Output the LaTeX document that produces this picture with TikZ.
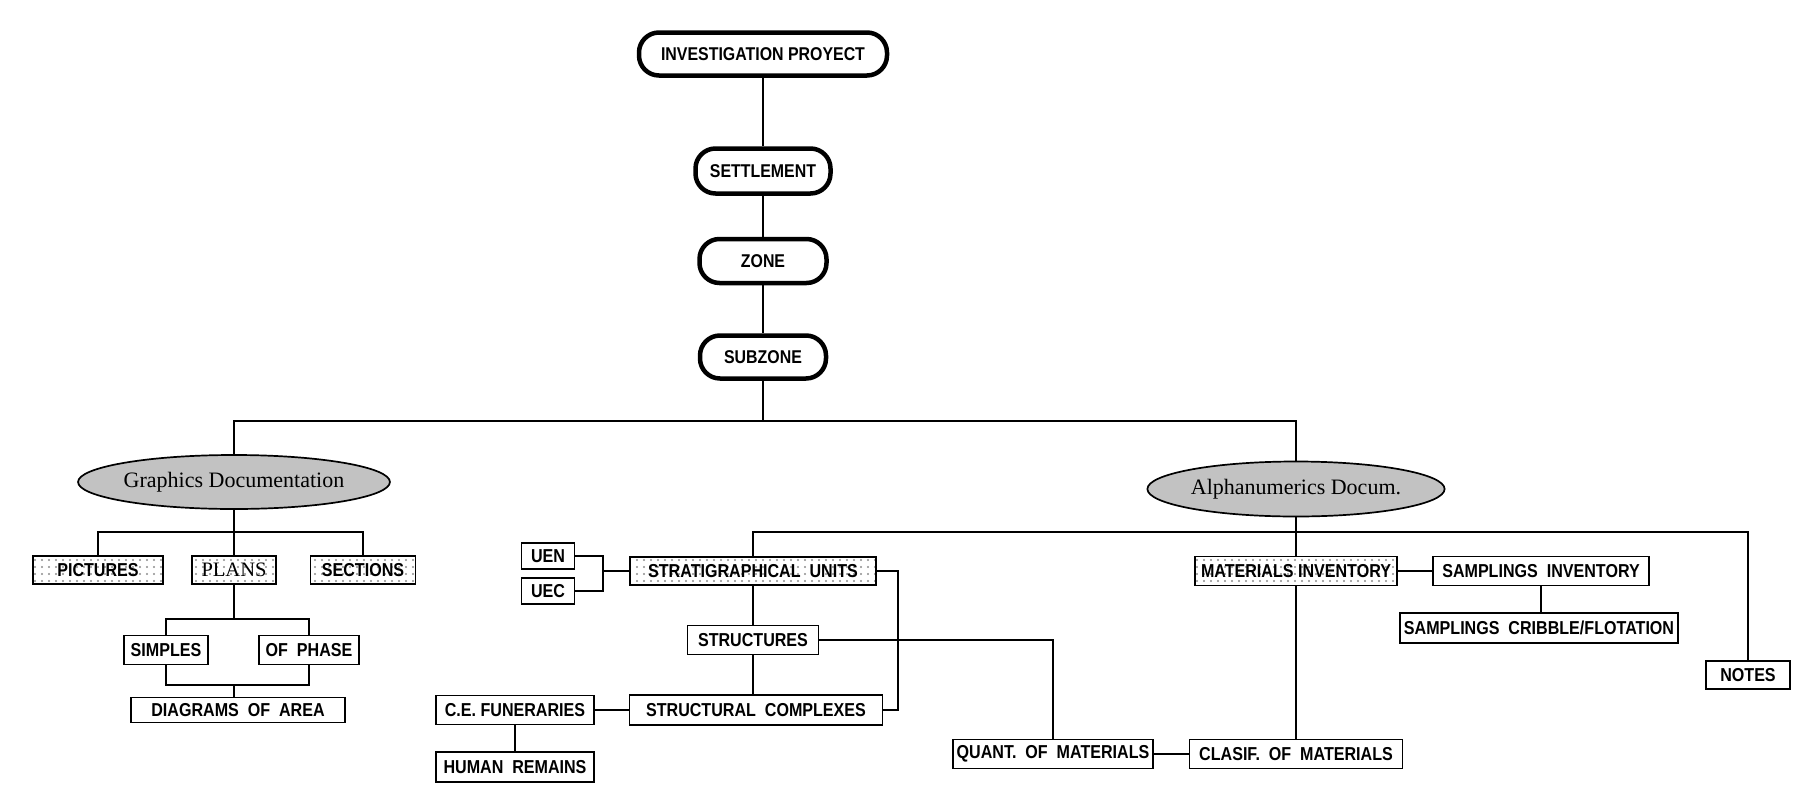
\documentclass[tikz,border=0pt]{standalone}
\usepackage{fontspec}
\setmainfont{Liberation Serif}
\newfontfamily\boxfont[FakeStretch=0.86]{Liberation Sans}
\usetikzlibrary{shapes.geometric,patterns.meta}
\begin{document}
\begin{tikzpicture}[x=1pt,y=-1pt,
  ln/.style={line width=1.4pt},
  topn/.style={draw, line width=4.5pt, rounded corners=20pt, inner sep=0pt, minimum height=43pt,
    font=\boxfont\bfseries\fontsize{18.5}{18.5}\selectfont},
  bx/.style={draw, line width=1.7pt, inner sep=0pt, minimum height=29pt,
    font=\boxfont\bfseries\fontsize{18.7}{18.7}\selectfont},
  bxd/.style={bx, pattern={Dots[distance=7pt, radius=1.1pt]}, pattern color=gray!90},
  ell/.style={ellipse, draw, line width=1.7pt, fill=gray!48, inner sep=0pt,
    font=\fontsize{22}{22}\selectfont}
]
\useasboundingbox (0,0) rectangle (1812,798);

% top chain
\node[topn, minimum width=248pt] (ip) at (763,54) {INVESTIGATION PROYECT};
\node[topn, minimum width=135pt, minimum height=45pt] (set) at (763,171) {SETTLEMENT};
\node[topn, minimum width=127pt, minimum height=44pt] (zone) at (763,261) {ZONE};
\node[topn, minimum width=126pt] (sub) at (763,357) {SUBZONE};

% ellipses
\node[ell, minimum width=254pt, minimum height=54pt] (graphics) at (234,482) {Graphics Documentation};
\node[ell, minimum width=249pt, minimum height=55pt] (alpha) at (1296,489) {Alphanumerics Docum.};

% graphics branch
\node[bxd, minimum width=130pt, minimum height=28pt] (pictures) at (98,570) {PICTURES};
\node[bxd, minimum width=84pt, minimum height=28pt, font=\fontsize{20.5}{20.5}\selectfont] (plans) at (234,570) {PLANS};
\node[bxd, minimum width=105pt, minimum height=28pt] (sections) at (363,570) {SECTIONS};
\node[bx, minimum width=84pt] (simples) at (166,650) {SIMPLES};
\node[bx, minimum width=100pt] (ofphase) at (309,650) {OF\ \ PHASE};
\node[bx, minimum width=214pt, minimum height=25pt] (diagrams) at (238,710) {DIAGRAMS\ \ OF\ \ AREA};

% stratigraphy
\node[bx, minimum width=53pt, minimum height=26pt] (uen) at (548,556) {UEN};
\node[bx, minimum width=53pt, minimum height=26pt] (uec) at (548,591) {UEC};
\node[bxd, minimum width=246pt, minimum height=28pt] (strat) at (753,571) {STRATIGRAPHICAL\ \ UNITS};
\node[bx, minimum width=131pt] (structures) at (753,640) {STRUCTURES};
\node[bx, minimum width=253pt, minimum height=30pt] (stcomplex) at (756,710) {STRUCTURAL\ \ COMPLEXES};
\node[bx, minimum width=158pt] (cefun) at (515,710) {C.E. FUNERARIES};
\node[bx, minimum width=158pt, minimum height=30pt] (human) at (515,767) {HUMAN\ \ REMAINS};

% materials
\node[bxd, minimum width=202pt] (matinv) at (1296,571) {MATERIALS INVENTORY};
\node[bx, minimum width=216pt] (sampinv) at (1541,571) {SAMPLINGS\ \ INVENTORY};
\node[bx, minimum width=278pt, minimum height=30pt] (cribble) at (1539,628) {SAMPLINGS\ \ CRIBBLE/FLOTATION};
\node[bx, minimum width=200pt] (quant) at (1053,754) {QUANT.\ \ OF\ \ MATERIALS};
\node[bx, minimum width=213pt] (clasif) at (1296,754) {CLASIF.\ \ OF\ \ MATERIALS};
\node[bx, minimum width=84pt, minimum height=28pt] (notes) at (1748,675) {NOTES};

% helper coordinates
\coordinate (b1) at (763,421);
\coordinate (b2) at (0,532);
\coordinate (c1) at (0,619);
\coordinate (c2) at (234,685);
\coordinate (j) at (603,571);
\coordinate (k) at (898,0);

% top connectors
\draw[ln] (ip) -- (set);
\draw[ln] (set) -- (zone);
\draw[ln] (zone) -- (sub);
\draw[ln] (sub.south) -- (b1);
\draw[ln] (graphics.north) -- (graphics.north |- b1) -- (alpha.north |- b1) -- (alpha.north);

% graphics connectors
\draw[ln] (graphics.south) -- (plans.north);
\draw[ln] (pictures.north) -- (pictures.north |- b2) -- (sections.north |- b2) -- (sections.north);
\draw[ln] (plans.south) -- (plans.south |- c1);
\draw[ln] (simples.north) -- (simples.north |- c1) -- (ofphase.north |- c1) -- (ofphase.north);
\draw[ln] (simples.south) -- (simples.south |- c2) -- (ofphase.south |- c2) -- (ofphase.south);
\draw[ln] (c2) -- (c2 |- diagrams.north);

% alpha connectors
\draw[ln] (alpha.south) -- (matinv.north);
\draw[ln] (strat.north) -- (strat.north |- b2) -- (notes.north |- b2) -- (notes.north);
\draw[ln] (uen.east) -- (uen.east -| j) -- (uec.east -| j) -- (uec.east);
\draw[ln] (j) -- (strat.west);
\draw[ln] (strat.east) -- (strat.east -| k) -- (stcomplex.east -| k) -- (stcomplex.east);
\draw[ln] (strat.south) -- (structures.north);
\draw[ln] (structures.south) -- (structures.south |- stcomplex.north);
\draw[ln] (structures.east) -| (quant.north);
\draw[ln] (cefun.east) -- (stcomplex.west);
\draw[ln] (cefun.south) -- (human.north);
\draw[ln] (quant.east) -- (clasif.west);
\draw[ln] (matinv.south) -- (clasif.north);
\draw[ln] (matinv.east) -- (sampinv.west);
\draw[ln] (sampinv.south) -- (sampinv.south |- cribble.north);
\end{tikzpicture}
\end{document}
